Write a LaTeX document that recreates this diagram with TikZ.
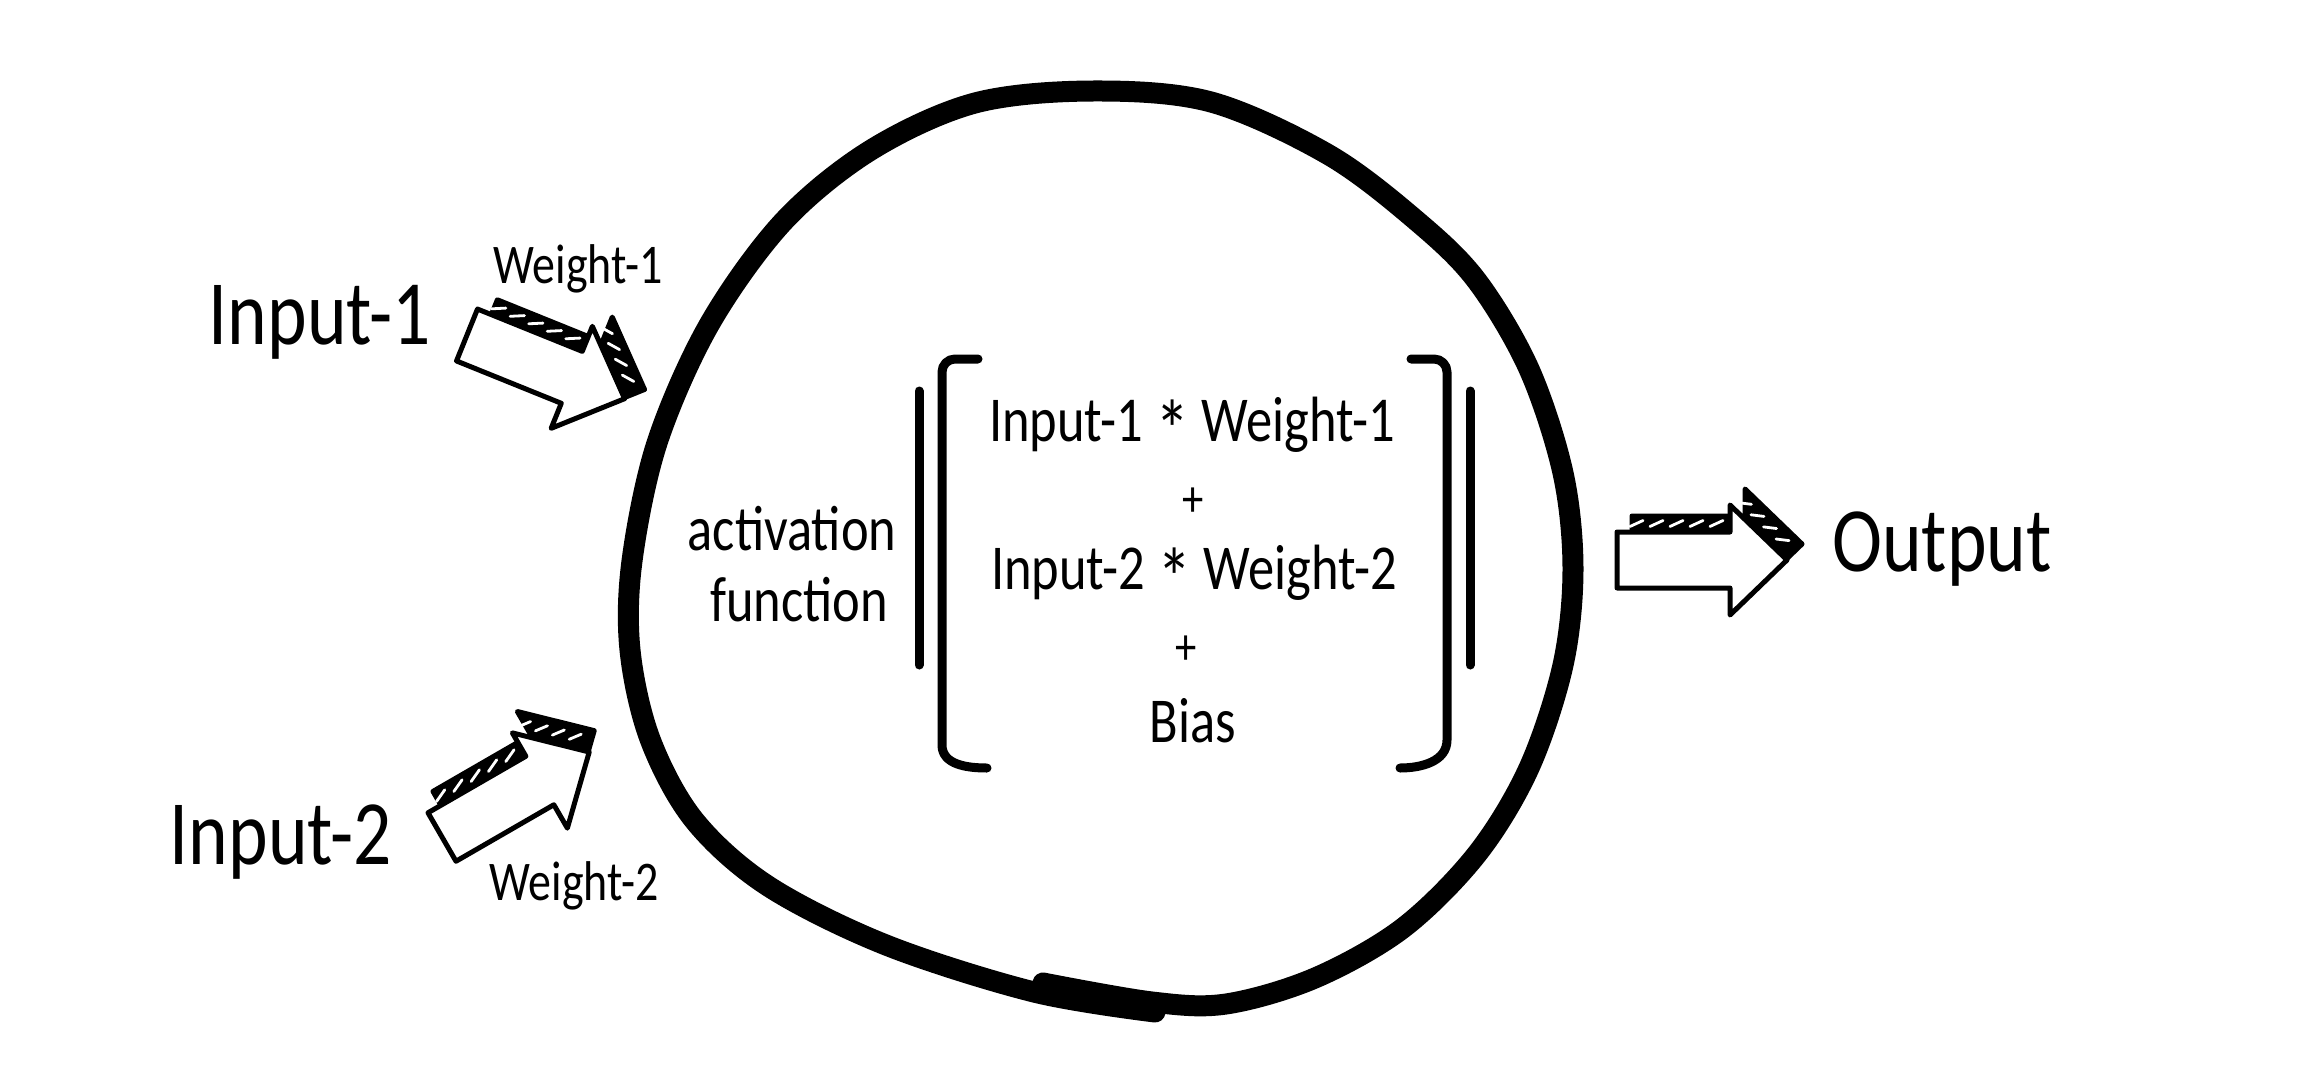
\documentclass[tikz,border=0pt]{standalone}
\usepackage{fontspec}
\setmainfont{Carlito}[FakeStretch=0.82]
\newcommand\astk{\raisebox{-0.28em}{\fontsize{84}{84}\selectfont *}}
\tikzset{
  x=1pt, y=-1pt,
  blob/.style={line width=21pt, line cap=round, line join=round},
  brk/.style={line width=9pt, line cap=round, line join=round},
  big/.style={font=\fontsize{92}{100}\selectfont, inner sep=0pt},
  mid/.style={font=\fontsize{64}{70}\selectfont, inner sep=0pt},
  small/.style={font=\fontsize{56}{60}\selectfont, inner sep=0pt},
  plus/.style={font=\fontsize{52}{56}\selectfont, inner sep=0pt},
  aface/.style={fill=white, draw=black, line width=5pt, line join=round},
  aband/.style={fill=black, draw=black, line width=5pt, line join=round},
  hatch/.style={white, line width=2.8pt, line cap=round},
  pics/sarrow/.style={code={
    \path[aband] (15,-44) -- (128,-44) -- (128,-71) -- (185,-16) -- (128,39) -- (128,12) -- (15,12) -- cycle;
    \foreach \xx in {8,28,48,68,88} {\draw[hatch] ({\xx+5},-33.5) -- ({\xx+18},-39.5);}
    \foreach \uu in {0.06,0.28,0.5,0.72} {\draw[hatch] ({118+57*\uu},{-60.6+55*\uu}) -- ({131+57*\uu},{-59+55*\uu});}
    \path[aface] (0,-28) -- (113,-28) -- (113,-55) -- (170,0) -- (113,55) -- (113,28) -- (0,28) -- cycle;
  }}
}
\begin{document}
\begin{tikzpicture}
\useasboundingbox[fill=white] (0,0) rectangle (2316,1076);

% big circle-like blob
\draw[blob] plot[smooth, tension=0.55] coordinates {
 (1043,983) (1152,1002) (1226,1004) (1315,978) (1403,928) (1477,854) (1529,768)
 (1563,665) (1573,569) (1563,473) (1529,369) (1477,281) (1418,222) (1329,155)
 (1211,102) (1093,91) (975,103) (871,150) (783,222) (709,325) (657,443)
 (632,561) (630,650) (650,739) (694,820) (768,886) (886,945) (1034,992) (1155,1012)};

% brackets
\draw[brk] (919,391) -- (919,665);
\draw[brk] (978,359) -- (955,359) to[out=180,in=90] (942,372) -- (942,745) to[out=-90,in=180] (987,768);
\draw[brk] (1411,359) -- (1434,359) to[out=0,in=90] (1447,372) -- (1447,740) to[out=-90,in=0] (1400,768);
\draw[brk] (1470,391) -- (1470,665);

% arrows
\pic[rotate=-22] (a1) at (467,335) {sarrow};
\pic[rotate=30] (a2) at (442,837) {sarrow};
\pic (a3) at (1617,560) {sarrow};

% texts
\node[big] (in1) at (320,322) {Input-1};
\node[small] (w1) at (578,269) {Weight-1};
\node[big] (in2) at (281,842) {Input-2};
\node[small] (w2) at (574,886) {Weight-2};
\node[big] (out) at (1942,549) {Output};
\node[mid] (act) at (792,529) {activation};
\node[mid] (fn) at (799,600) {function};
\node[mid] (t1) at (1192,428) {Input-1 \astk\ Weight-1};
\node[plus] (p1) at (1193,502) {+};
\node[mid] (t2) at (1194,576) {Input-2 \astk\ Weight-2};
\node[plus] (p2) at (1186,650) {+};
\node[mid] (bias) at (1193,721) {Bias};
\end{tikzpicture}
\end{document}
